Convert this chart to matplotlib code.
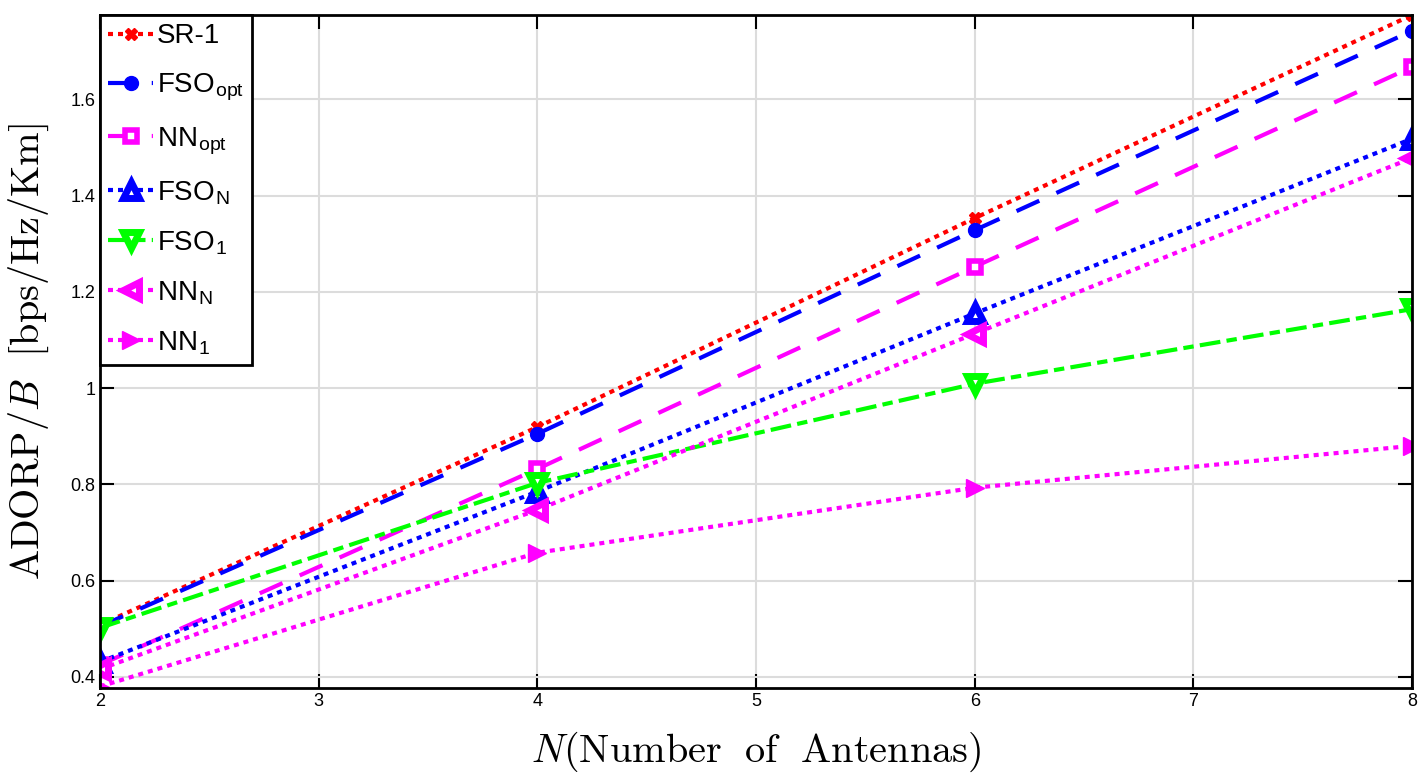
import numpy as np
import matplotlib.pyplot as plt

plt.rcParams['mathtext.fontset'] = 'cm'

# data
N = [2, 4, 6, 8]
sr1 = [0.508, 0.919, 1.353, 1.775]
fso_opt = [0.505, 0.905, 1.328, 1.742]
nn_opt = [0.425, 0.832, 1.252, 1.667]
fso_n = [0.431, 0.785, 1.155, 1.518]
fso_1 = [0.502, 0.803, 1.009, 1.164]
nn_n = [0.416, 0.747, 1.113, 1.478]
nn_1 = [0.380, 0.658, 0.793, 0.880]

fig = plt.figure(figsize=(14.25, 7.73), dpi=100)
ax = fig.add_axes([0.0702, 0.110, 0.9207, 0.8706])

lw = 3
dot = (1.2, 1.2)
ax.plot(N, sr1, color='red', lw=lw, dashes=dot, marker='X', ms=8, label='SR-1')
ax.plot(N, fso_opt, color='blue', lw=lw, dashes=(6, 4.5), marker='o', ms=10, label=r'FSO$_{\mathregular{opt}}$')
ax.plot(N, nn_opt, color='magenta', lw=lw, dashes=(6, 4.5), marker='s', ms=8, mfc='white', mew=4, label=r'NN$_{\mathregular{opt}}$')
ax.plot(N, fso_n, color='blue', lw=lw, dashes=dot, marker='^', ms=11, mfc='white', mew=5, label=r'FSO$_{\mathregular{N}}$')
ax.plot(N, fso_1, color='#00ff00', lw=lw, dashes=(5, 1.5, 2.5, 1.5), marker='v', ms=11, mfc='white', mew=5, label=r'FSO$_{\mathregular{1}}$')
ax.plot(N, nn_n, color='magenta', lw=lw, dashes=dot, marker='<', ms=11, mfc='white', mew=5, label=r'NN$_{\mathregular{N}}$')
ax.plot(N, nn_1, color='magenta', lw=lw, dashes=dot, marker='>', ms=13, label=r'NN$_{\mathregular{1}}$')

ax.set_xlim(2, 8)
ax.set_ylim(0.377, 1.775)
ax.set_xticks([2, 3, 4, 5, 6, 7, 8])
ax.set_yticks([0.4, 0.6, 0.8, 1.0, 1.2, 1.4, 1.6])
ax.set_yticklabels(['0.4', '0.6', '0.8', '1', '1.2', '1.4', '1.6'])
ax.grid(True, color='#dcdcdc', lw=1.5)
ax.set_axisbelow(True)
ax.tick_params(direction='in', length=10, width=1.5, top=True, right=True, labelsize=13)
for lab in ax.get_xticklabels() + ax.get_yticklabels():
    lab.set_family('Liberation Sans')
for s in ax.spines.values():
    s.set_linewidth(2)

ax.set_xlabel(r'$N(\mathrm{Number\ \ of\ \ Antennas})$', fontsize=29, labelpad=14)
ax.set_ylabel(r'$\mathrm{ADORP}/B\ \ [\mathrm{bps/Hz/Km}]$', fontsize=29, labelpad=14)

leg = ax.legend(loc='upper left', prop={'family': 'Liberation Sans', 'size': 20},
                handlelength=1.6, handletextpad=0.15, borderaxespad=0, borderpad=0.3,
                labelspacing=0.8, fancybox=False, framealpha=1, edgecolor='black')
leg.get_frame().set_linewidth(2)

fig.savefig('out.png', dpi=100)
